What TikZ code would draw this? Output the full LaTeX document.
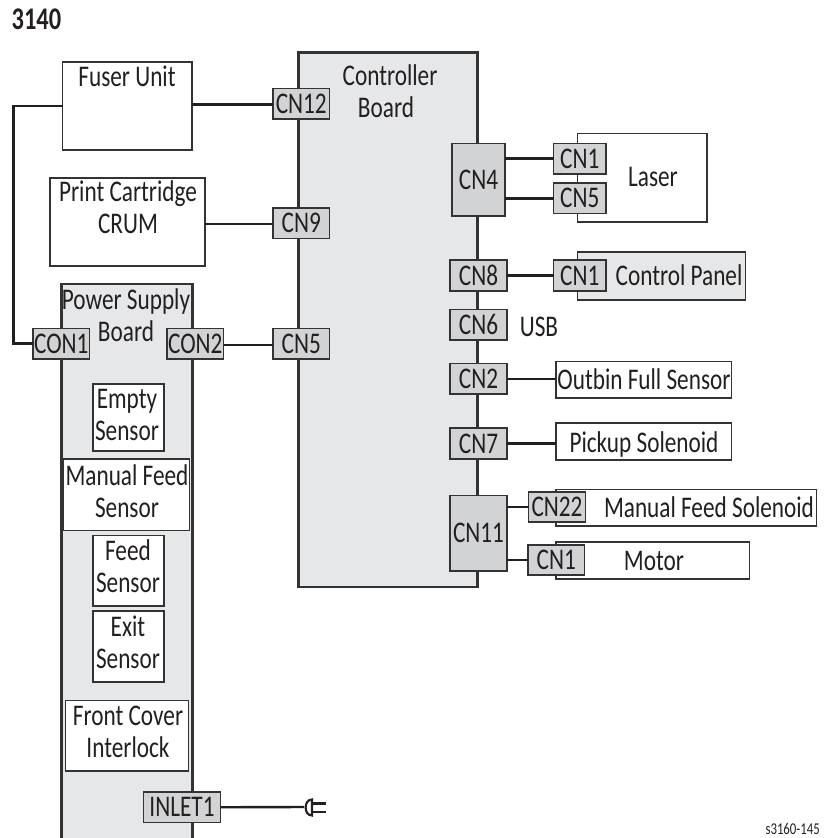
\documentclass[tikz,border=0pt]{standalone}
\usepackage{fontspec}
\setmainfont[FakeStretch=0.775]{Carlito}
\definecolor{ink}{HTML}{231F20}
\definecolor{rim}{HTML}{333334}
\definecolor{boardgray}{HTML}{E6E7E8}
\definecolor{conngray}{HTML}{D1D3D4}
\tikzset{
  boxbase/.style={draw=rim,line width=1.5pt,inner sep=0pt,outer sep=0pt,text=ink,align=center,font=\fontsize{30}{32}\selectfont},
  plainbox/.style={boxbase,fill=white},
  panelbox/.style={boxbase,fill=boardgray},
  board/.style={boxbase,fill=boardgray,line width=2.5pt},
  conn/.style={boxbase,fill=conngray,text height=19.3pt,text depth=0pt},
  lbl/.style={inner sep=0pt,outer sep=0pt,text=ink,align=center,anchor=north,font=\fontsize{30}{32}\selectfont},
  wire/.style={draw=ink,line width=2.6pt},
  thinwire/.style={draw=ink,line width=2.4pt}
}
\newcommand{\mybox}[7]{\path let \n1={(#3+#5)/2},\n2={(#4+#6)/2} in node[#1,minimum width={(#5)*1pt-(#3)*1pt},minimum height={(#6)*1pt-(#4)*1pt}] (#2) at (\n1,\n2) {#7};}
% \lb{name}{centre x}{centre y of first line}{text}
\newcommand{\lb}[4]{\node[lbl] (#1) at (#2,{#3-12.7}) {\strut #4};}
\usetikzlibrary{calc}
\begin{document}
\begin{tikzpicture}[x=1pt,y=-1pt]
\useasboundingbox (0,0) rectangle (824,838);
\clip (0,0) rectangle (824,838);

\node[inner sep=0pt,anchor=base west,text=ink,font=\fontsize{31.5}{32}\selectfont\bfseries] (title) at (11.5,29) {3140};

% boards
\mybox{board}{ctrl}{298.5}{52.5}{477.5}{587}{}
\mybox{board}{psu}{61.5}{284}{192.5}{870}{}
\lb{ctrltxt}{390}{76}{Controller\\ Board\kern8pt}
\lb{psutxt}{126}{300}{Power Supply\\ Board}

% left-hand units
\mybox{plainbox}{fuser}{62.5}{62}{192}{150}{}
\lb{fusertxt}{127}{77}{Fuser Unit}
\mybox{plainbox}{crum}{50}{178}{205}{266}{}
\lb{crumtxt}{128}{192}{Print Cartridge\\ CRUM}

% sensors on the power supply board
\mybox{plainbox}{empty}{93}{384}{164}{451}{}
\lb{emptytxt}{127}{399}{Empty\\ Sensor}
\mybox{plainbox}{manual}{63.5}{459}{189.5}{530.5}{}
\lb{manualtxt}{127}{476}{Manual Feed\\ Sensor}
\mybox{plainbox}{feed}{93}{535.5}{164}{606}{}
\lb{feedtxt}{128}{551}{Feed\\ Sensor}
\mybox{plainbox}{exit}{93}{611}{164}{682}{}
\lb{exittxt}{128}{627}{Exit\\ Sensor}
\mybox{plainbox}{front}{65.5}{700.5}{188.5}{771}{}
\lb{fronttxt}{128}{716}{Front Cover\\ Interlock}

% right-hand units
\mybox{plainbox}{laser}{577.5}{133.5}{707}{222}{}
\lb{lasertxt}{653}{177}{Laser}
\mybox{panelbox}{panel}{577.5}{252}{745.5}{300}{}
\lb{paneltxt}{679}{276}{Control Panel}
\lb{usbtxt}{539}{327}{USB}
\mybox{plainbox}{outbin}{556}{361.5}{731.5}{398}{}
\lb{outbintxt}{644}{380}{Outbin Full Sensor}
\mybox{plainbox}{pickup}{556}{423}{731.5}{460}{}
\lb{pickuptxt}{644}{443}{Pickup Solenoid}
\mybox{plainbox}{mfsol}{556}{489.5}{816.5}{526}{}
\lb{mfsoltxt}{709}{508}{Manual Feed Solenoid}
\mybox{plainbox}{motor}{556}{542}{749.5}{579}{}
\lb{motortxt}{654}{561}{Motor}

% connectors on the boards
\mybox{conn}{cntw}{273}{88.5}{329.5}{119}{CN12}
\mybox{conn}{cnnine}{273}{208}{329.5}{238.5}{CN9}
\mybox{conn}{cnfive}{273}{328.5}{329.5}{359}{CN5}
\mybox{conn}{conone}{33}{328.5}{89.5}{359}{CON1}
\mybox{conn}{contwo}{167}{328.5}{223.5}{359}{CON2}
\mybox{conn}{inlet}{143.5}{792}{220.5}{822.5}{INLET1}
\mybox{conn}{cnfour}{452}{143.5}{505}{216}{CN4}
\mybox{conn}{lcnone}{553.5}{143.5}{606}{174}{CN1}
\mybox{conn}{lcnfive}{553.5}{183}{606}{213.5}{CN5}
\mybox{conn}{cneight}{450}{260}{507}{291}{CN8}
\mybox{conn}{pcnone}{553.5}{260}{606}{291}{CN1}
\mybox{conn}{cnsix}{450}{309.5}{507}{340}{CN6}
\mybox{conn}{cntwo}{450}{363.5}{507}{394}{CN2}
\mybox{conn}{cnseven}{450}{428}{507}{459}{CN7}
\mybox{conn}{cneleven}{450}{495.5}{507}{571}{CN11}
\mybox{conn}{cntt}{528.5}{492}{585.5}{522}{CN22}
\mybox{conn}{mcnone}{528}{545}{584.5}{575}{CN1}

% wiring
\coordinate (bus) at (13.5,220);
\coordinate (plug) at (304,807);
\draw[wire] (fuser.west) -- (fuser.west -| bus) -- (bus |- conone.west) -- (conone.west);
\draw[wire] ([yshift=-1pt]cntw.west) -- ([yshift=-1pt]cntw.west -| fuser.east);
\draw[thinwire] ([yshift=-.7pt]cnnine.west) -- ([yshift=-.7pt]cnnine.west -| crum.east);
\draw[thinwire] ([yshift=-1pt]contwo.east) -- ([yshift=-1pt]cnfive.west);
\draw[wire] (lcnone.west) -- (lcnone.west -| cnfour.east);
\draw[wire] (lcnfive.west) -- (lcnfive.west -| cnfour.east);
\draw[thinwire] (cneight.east) -- (pcnone.west);
\draw[thinwire] (cntwo.east) -- (cntwo.east -| outbin.west);
\draw[thinwire] (cnseven.east) -- (cnseven.east -| pickup.west);
\draw[thinwire] (cntt.west) -- (cntt.west -| cneleven.east);
\draw[wire] (mcnone.west) -- (mcnone.west -| cneleven.east);
\draw[thinwire] (inlet.east) -- (plug);

% mains plug
\draw[line width=2.1pt,draw=ink] ($(plug)+(8,-7.5)$) .. controls ($(plug)+(-0.5,-7.5)$) and ($(plug)+(-0.5,8.5)$) .. ($(plug)+(8,8.5)$) -- cycle;
\draw[line width=2.1pt,draw=ink] ($(plug)+(8,-3.5)$) -- ($(plug)+(21.5,-3.5)$);
\draw[line width=2.1pt,draw=ink] ($(plug)+(8,5)$) -- ($(plug)+(21.5,5)$);

\node[inner sep=0pt,anchor=base east,text=ink,font=\fontsize{16.5}{18}\selectfont] (partno) at (820,834) {s3160-145};
\end{tikzpicture}
\end{document}
